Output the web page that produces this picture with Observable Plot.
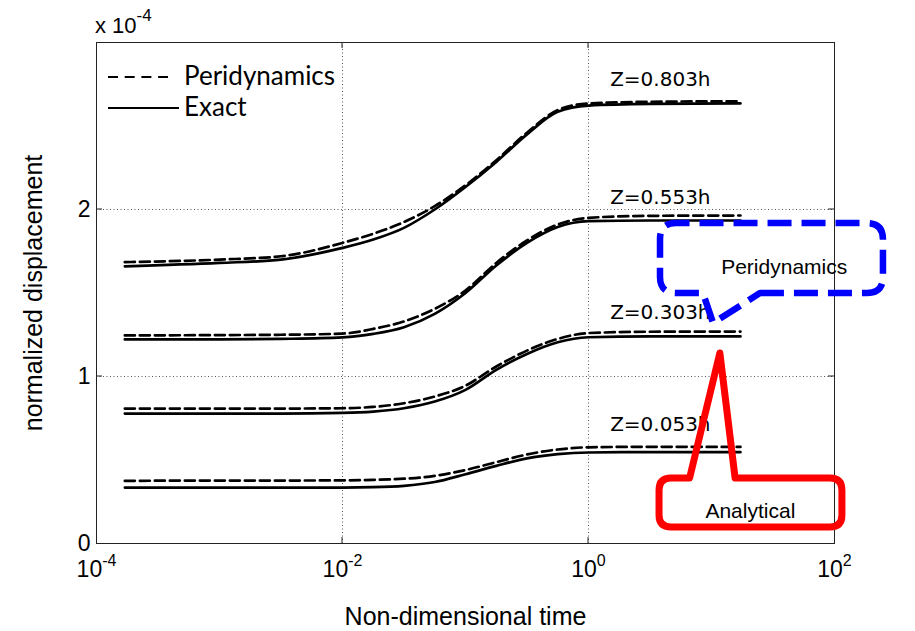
<!DOCTYPE html>
<html><head><meta charset="utf-8">
<script src="https://cdn.jsdelivr.net/npm/d3@7"></script>
<script src="https://cdn.jsdelivr.net/npm/@observablehq/plot@0.6"></script>
<style>
body{margin:0;background:#fff}
#chart{width:915px;height:631px}
</style>
</head><body><div id="chart"></div>
<script>
// Non-dimensional time sample points
const times = [0.00017, 0.001, 0.00316, 0.01, 0.0178, 0.0316, 0.0562, 0.1, 0.178, 0.316, 0.562, 1, 3.16, 17.2];
const depths = ["Z=0.803h", "Z=0.553h", "Z=0.303h", "Z=0.053h"];
// normalized displacement (x 10^-4)
const exact803 = [1.66, 1.68, 1.70, 1.77, 1.82, 1.89, 2.0, 2.135, 2.285, 2.45, 2.585, 2.622, 2.632, 2.635];
const peri803  = [1.685, 1.70, 1.72, 1.80, 1.855, 1.925, 2.02, 2.145, 2.295, 2.46, 2.595, 2.635, 2.645, 2.648];
const exact553 = [1.222, 1.222, 1.225, 1.234, 1.255, 1.295, 1.375, 1.50, 1.665, 1.80, 1.895, 1.93, 1.934, 1.934];
const peri553  = [1.246, 1.248, 1.25, 1.257, 1.285, 1.33, 1.405, 1.515, 1.68, 1.815, 1.91, 1.95, 1.962, 1.964];
const exact303 = [0.778, 0.778, 0.778, 0.782, 0.79, 0.81, 0.85, 0.92, 1.04, 1.135, 1.205, 1.235, 1.24, 1.24];
const peri303  = [0.808, 0.808, 0.808, 0.81, 0.818, 0.84, 0.88, 0.945, 1.06, 1.155, 1.225, 1.26, 1.268, 1.269];
const exact053 = [0.335, 0.335, 0.335, 0.335, 0.337, 0.345, 0.368, 0.415, 0.465, 0.51, 0.535, 0.545, 0.547, 0.547];
const peri053  = [0.375, 0.377, 0.377, 0.378, 0.381, 0.388, 0.405, 0.44, 0.487, 0.533, 0.563, 0.576, 0.579, 0.578];

const xTicks = [1e-4, 1e-2, 1, 1e2];
const yTicks = [0, 1, 2];
const gridX = [1e-2, 1];
const gridY = [1, 2];

// curve labels (data coordinates)
const labelT = [1.5, 1.5, 1.5, 1.5];
const labelV = [2.775, 2.069, 1.380, 0.710];

// callouts (data coordinates): box t-range, v-range, pointer base t's, tip
const periBox = {t0: 3.85, t1: 250, v0: 1.497, v1: 1.916, baseA: 8.6, baseB: 25, tipT: 10.4, tipV: 1.317, text: "Peridynamics", textT: 39, textV: 1.656};
const anaBox  = {t0: 3.78, t1: 116, v0: 0.096, v1: 0.389, baseA: 6.7, baseB: 15.7, tipT: 11.8, tipV: 1.138, text: "Analytical", textT: 20.7, textV: 0.195};

const exactSeries = [exact803, exact553, exact303, exact053];
const periSeries = [peri803, peri553, peri303, peri053];
const rows = [];
depths.forEach((d, k) => {
  times.forEach((t, i) => {
    rows.push({t, v: exactSeries[k][i], depth: d, kind: "Exact"});
    rows.push({t, v: periSeries[k][i], depth: d, kind: "Peridynamics"});
  });
});
const labels = depths.map((d, k) => ({t: labelT[k], v: labelV[k], text: d}));

const tickFont = "Liberation Sans Narrow, Liberation Sans, Arial, sans-serif";
const sansFont = "Liberation Sans, Arial, sans-serif";
const plot = Plot.plot({
  width: 915,
  height: 631,
  marginLeft: 96,
  marginRight: 81,
  marginTop: 42,
  marginBottom: 88,
  style: {fontFamily: tickFont, fontSize: "23px", color: "#000", background: "#fff"},
  x: {type: "log", domain: [1e-4, 1e2], ticks: xTicks, tickFormat: d => "10^" + Math.round(Math.log10(d)), tickSize: 0, tickPadding: 17, label: null},
  y: {domain: [0, 3], ticks: yTicks, tickFormat: d => String(d), tickSize: 0, tickPadding: 6, label: null},
  marks: [
    Plot.ruleX(gridX, {stroke: "#555", strokeWidth: 1, strokeDasharray: "1,2.5"}),
    Plot.ruleY(gridY, {stroke: "#555", strokeWidth: 1, strokeDasharray: "1,2.5"}),
    Plot.frame({stroke: "#222", strokeWidth: 1}),
    Plot.line(rows.filter(r => r.kind === "Exact"), {x: "t", y: "v", z: "depth", stroke: "#000", strokeWidth: 2.7, curve: "monotone-x"}),
    Plot.line(rows.filter(r => r.kind === "Peridynamics"), {x: "t", y: "v", z: "depth", stroke: "#000", strokeWidth: 2.7, strokeDasharray: "10,5", curve: "monotone-x"}),
    Plot.text(labels, {x: "t", y: "v", text: "text", textAnchor: "start", lineAnchor: "middle", fontFamily: "DejaVu Sans", fontSize: 20, fill: "#000"}),
    Plot.text([periBox, anaBox], {x: "textT", y: "textV", text: "text", textAnchor: "middle", lineAnchor: "middle", fontFamily: sansFont, fontSize: 21, fill: "#000"}),
    Plot.text(["Non-dimensional time"], {frameAnchor: "bottom", dy: 73, textAnchor: "middle", lineAnchor: "middle", fontFamily: sansFont, fontSize: 25, fill: "#000"}),
    Plot.text(["normalized displacement"], {frameAnchor: "left", dx: -63, rotate: -90, textAnchor: "middle", lineAnchor: "middle", fontFamily: sansFont, fontSize: 25, fill: "#000"})
  ]
});
document.getElementById("chart").appendChild(plot);

// superscript tick labels
d3.select(plot).selectAll("text").each(function() {
  const m = /^10\^(-?\d+)$/.exec(this.textContent);
  if (!m) return;
  const el = d3.select(this);
  el.text("10");
  el.append("tspan").attr("dy", "-11").attr("font-size", "16px").text(m[1]);
});

const sx = plot.scale("x"), sy = plot.scale("y");
const X = sx.apply ? v => sx.apply(v) : d3.scaleLog(sx.domain, sx.range);
const Y = sy.apply ? v => sy.apply(v) : d3.scaleLinear(sy.domain, sy.range);
const svg = d3.select(plot);
const [fx0, fx1] = [X(1e-4), X(1e2)];
const [fy0, fy1] = [Y(3), Y(0)];

// inward tick marks
const tk = svg.append("g").attr("stroke", "#222").attr("stroke-width", 1);
gridX.forEach(t => {
  tk.append("line").attr("x1", X(t)).attr("x2", X(t)).attr("y1", fy1).attr("y2", fy1 - 6);
  tk.append("line").attr("x1", X(t)).attr("x2", X(t)).attr("y1", fy0).attr("y2", fy0 + 6);
});
gridY.forEach(v => {
  tk.append("line").attr("y1", Y(v)).attr("y2", Y(v)).attr("x1", fx0).attr("x2", fx0 + 6);
  tk.append("line").attr("y1", Y(v)).attr("y2", Y(v)).attr("x1", fx1).attr("x2", fx1 - 6);
});

// exponent label
const ex = svg.append("text").attr("x", fx0 - 1).attr("y", fy0 - 9).attr("text-anchor", "start")
  .attr("font-family", sansFont).attr("font-size", "22px").attr("fill", "#000");
ex.append("tspan").text("x 10");
ex.append("tspan").attr("dy", "-12").attr("font-size", "17px").text("-4");

// legend
const lg = svg.append("g").attr("text-anchor", "start");
lg.append("line").attr("x1", fx0 + 12).attr("x2", fx0 + 72).attr("y1", fy0 + 35).attr("y2", fy0 + 35)
  .attr("stroke", "#000").attr("stroke-width", 2).attr("stroke-dasharray", "10,6.7");
lg.append("line").attr("x1", fx0 + 12).attr("x2", fx0 + 83).attr("y1", fy0 + 66).attr("y2", fy0 + 66)
  .attr("stroke", "#000").attr("stroke-width", 2);
lg.append("text").attr("x", fx0 + 88).attr("y", fy0 + 43).attr("font-family", "Lato, Open Sans, sans-serif").attr("font-size", "26px").attr("fill", "#000").text("Peridynamics");
lg.append("text").attr("x", fx0 + 88).attr("y", fy0 + 74).attr("font-family", "Lato, Open Sans, sans-serif").attr("font-size", "26px").attr("fill", "#000").text("Exact");

// callouts
function calloutPath(b, r, pointerOnTop) {
  const x0 = X(b.t0), x1 = X(b.t1), yTop = Y(b.v1), yBot = Y(b.v0);
  const xa = X(b.baseA), xb = X(b.baseB), tx = X(b.tipT), ty = Y(b.tipV);
  if (!pointerOnTop) {
    return `M${xb},${yBot} L${x1 - r},${yBot} Q${x1},${yBot} ${x1},${yBot - r} L${x1},${yTop + r} Q${x1},${yTop} ${x1 - r},${yTop} L${x0 + r},${yTop} Q${x0},${yTop} ${x0},${yTop + r} L${x0},${yBot - r} Q${x0},${yBot} ${x0 + r},${yBot} L${xa},${yBot} L${tx},${ty} Z`;
  }
  return `M${xa},${yTop} L${x0 + r},${yTop} Q${x0},${yTop} ${x0},${yTop + r} L${x0},${yBot - r} Q${x0},${yBot} ${x0 + r},${yBot} L${x1 - r},${yBot} Q${x1},${yBot} ${x1},${yBot - r} L${x1},${yTop + r} Q${x1},${yTop} ${x1 - r},${yTop} L${xb},${yTop} L${tx},${ty} Z`;
}
svg.append("path").attr("d", calloutPath(periBox, 16, false)).attr("fill", "none")
  .attr("stroke", "#0000ff").attr("stroke-width", 6.5).attr("stroke-dasharray", "24,10").attr("stroke-linejoin", "round");
svg.append("path").attr("d", calloutPath(anaBox, 12, true)).attr("fill", "none")
  .attr("stroke", "#ff0000").attr("stroke-width", 7).attr("stroke-linejoin", "round");
</script>
</body></html>
